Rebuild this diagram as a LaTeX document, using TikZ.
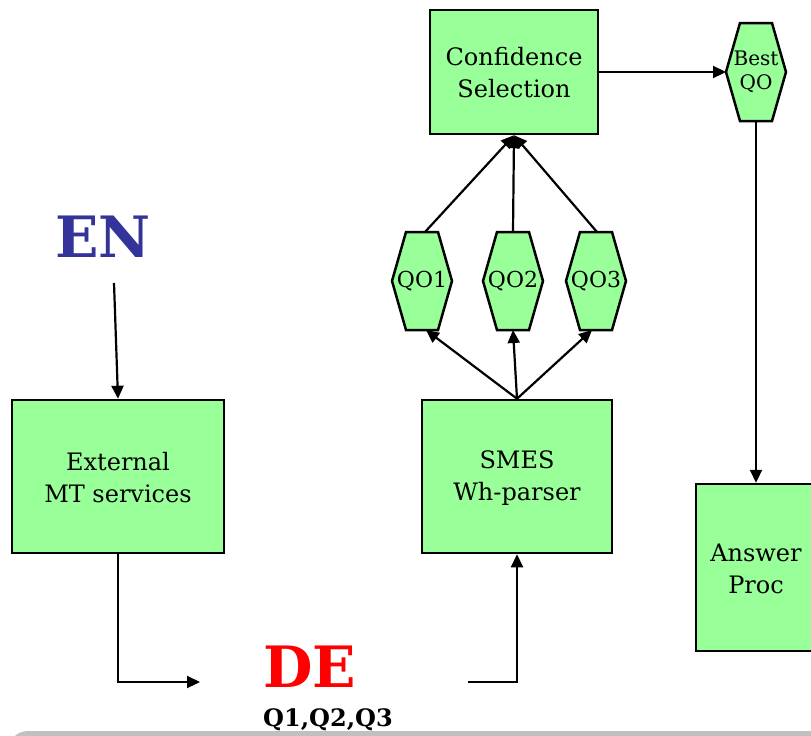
\documentclass[tikz,border=0pt]{standalone}
\usepackage{fontspec}
\setmainfont{DejaVu Serif}
\usetikzlibrary{arrows.meta}
\definecolor{boxgreen}{HTML}{99FF99}
\definecolor{enblue}{HTML}{333399}
\definecolor{dered}{HTML}{FF0000}
\definecolor{shadegrey}{HTML}{C0C0C0}

% elongated hexagon: name, x, y, text
\newcommand\hexnode[4]{%
  \draw[hexline] ({#2-30},#3) coordinate (#1-l)
    -- ({#2-16},{#3-49}) -- ({#2+16},{#3-49})
    -- ({#2+30},#3) coordinate (#1-r)
    -- ({#2+16},{#3+49}) -- ({#2-16},{#3+49}) -- cycle;
  \coordinate (#1-t) at (#2,{#3-49});
  \coordinate (#1-b) at (#2,{#3+49});
  \node[hextext] (#1) at (#2,#3) {#4};
}

\begin{document}
\begin{tikzpicture}[x=1pt,y=-1pt,
  box/.style={draw=black, line width=2.5pt, fill=boxgreen, inner sep=0pt},
  lbl/.style={font=\fontsize{24}{32}\selectfont, align=center},
  hexline/.style={draw=black, line width=2.5pt, fill=boxgreen, line join=miter},
  hextext/.style={font=\fontsize{22}{24}\selectfont, align=center, inner sep=0pt},
  arr/.style={line width=2.2pt, -{Triangle[length=13pt,width=12pt]}},
  big/.style={font=\fontsize{57}{60}\selectfont\bfseries, inner sep=0pt}
]
\useasboundingbox (0,0) rectangle (811,736);

% slide footer band
\fill[shadegrey, rounded corners=20pt] (8,731) rectangle (850,800);

% boxes
\node[box, minimum width=168pt, minimum height=124pt] (conf) at (514,72) {};
\node[lbl] (conftxt) at (514,73) {Confidence\\Selection};
\node[box, minimum width=212pt, minimum height=153pt] (ext) at (118,476.5) {};
\node[lbl] (exttxt) at (118,478) {External\\MT services};
\node[box, minimum width=190pt, minimum height=153pt] (smes) at (517,476.5) {};
\node[lbl] (smestxt) at (517,478) {SMES\\Wh-parser};
\node[box, minimum width=130pt, minimum height=167pt] (ans) at (761,567.5) {};
\node[lbl] (anstxt) at (756,569) {Answer\\Proc};

% hexagons
\hexnode{qo1}{422}{281}{QO1}
\hexnode{qo2}{513}{281}{QO2}
\hexnode{qo3}{596}{281}{QO3}
\begin{scope}[hextext/.append style={font=\fontsize{20}{24}\selectfont}]
\hexnode{best}{756}{72}{Best\\QO}
\end{scope}

% language labels
\node[big, text=enblue] (en) at (103,237) {EN};
\node[big, text=dered] (de) at (310,667) {DE};
\node[font=\fontsize{24}{28}\selectfont\bfseries, inner sep=0pt] (qs) at (328,720) {Q1,Q2,Q3};
\coordinate (enout) at (114,283);
\coordinate (dein) at (200,682);
\coordinate (deout) at (468,682);

% connectors
\draw[arr] (conf.east) -- (best-l);
\draw[arr] (best-b) -- (best-b |- ans.north);
\draw[arr] ([xshift=3pt]qo1-t) -- (conf.south);
\draw[arr] (qo2-t) -- (conf.south);
\draw[arr] ([xshift=1pt]qo3-t) -- (conf.south);
\draw[arr] (smes.north) -- ([xshift=4pt]qo1-b);
\draw[arr] (smes.north) -- (qo2-b);
\draw[arr] (smes.north) -- ([xshift=-4pt]qo3-b);
\draw[arr] (enout) -- (ext.north);
\draw[arr] (ext.south) |- (dein);
\draw[arr] (deout) -| (smes.south);
\end{tikzpicture}
\end{document}
